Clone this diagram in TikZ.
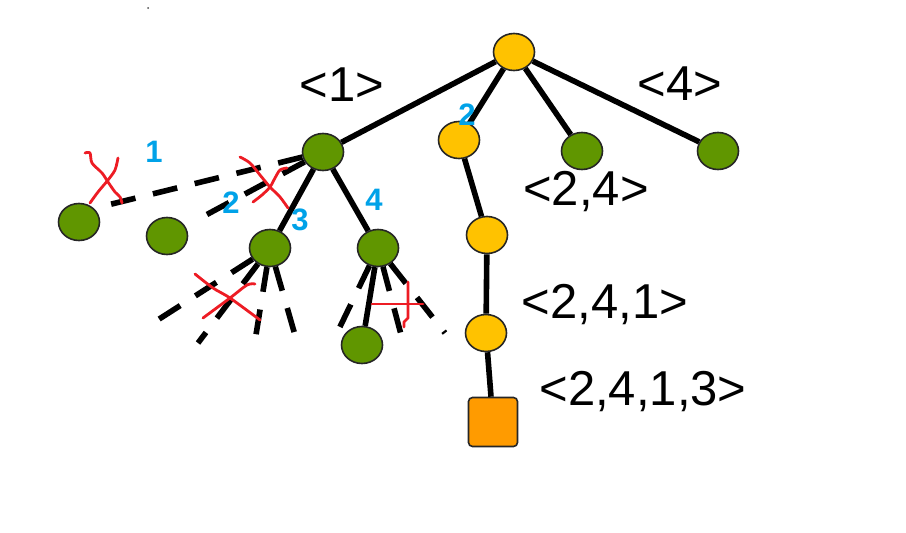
\documentclass[tikz,border=0pt]{standalone}
\usepackage{fontspec}
\setmainfont{Liberation Sans}
\usetikzlibrary{shapes.geometric}
\definecolor{leaf}{RGB}{96,150,0}
\definecolor{gold}{RGB}{255,194,0}
\definecolor{goalorange}{RGB}{255,155,0}
\definecolor{orderblue}{RGB}{0,162,232}
\definecolor{crossred}{RGB}{237,28,36}

\begin{document}
\begin{tikzpicture}[x=1pt,y=-1pt,
		leafnode/.style={ellipse,draw=black!85,line width=1.6pt,fill=leaf,minimum width=41pt,minimum height=37pt,inner sep=0pt},
		goldnode/.style={leafnode,fill=gold},
		goalnode/.style={rectangle,rounded corners=4pt,draw=black!85,line width=1.6pt,fill=goalorange,minimum size=49pt,inner sep=0pt},
		branch/.style={line width=5.6pt},
		pruned/.style={line width=5.6pt,dash pattern=on 25pt off 18pt},
		cross/.style={draw=crossred,line width=2.8pt,line cap=round,line join=round},
		seq/.style={anchor=base,inner sep=0pt,font=\fontsize{49}{49}\selectfont},
		order/.style={anchor=base,inner sep=0pt,text=orderblue,font=\bfseries\fontsize{31}{31}\selectfont}]
	\useasboundingbox (0,0) rectangle (906,533);
	\fill[black!70] (148,8) circle (1pt);
	% search tree
	\node[goldnode] (root) at (514,52) {};
	\node[leafnode] (g1) at (323,152) {};
	\node[goldnode] (y2) at (459,140) {};
	\node[leafnode] (g3) at (582,151) {};
	\node[leafnode] (g4) at (718,151) {};
	\node[leafnode] (gA) at (79,222) {};
	\node[leafnode] (gB) at (167,236) {};
	\node[leafnode] (g13) at (270,248) {};
	\node[leafnode] (g14) at (378,248) {};
	\node[leafnode] (gC) at (362,345) {};
	\node[goldnode] (y24) at (487,235) {};
	\node[goldnode] (y241) at (486,333) {};
	\node[goalnode] (goal) at (493,422) {};
	% ends of pruned branches
	\coordinate (c1) at (153,323);
	\coordinate (c2) at (198,343);
	\coordinate (c3) at (255,341);
	\coordinate (c4) at (297,342);
	\coordinate (d1) at (337,333);
	\coordinate (d2) at (403,342);
	\coordinate (d3) at (445,333);

	\foreach \a/\b in {root/g1, root/y2, root/g3, root/g4, g1/g13, g1/g14, gC/g14, y2/y24, y24/y241, y241/goal}
		\draw[branch] (\a) -- (\b);
	\draw[pruned] (g1) -- (gA.north east);
	\draw[pruned,shorten >=12pt] (g1) -- (gB);
	\foreach \c in {c1,c2,c3,c4}
		\draw[pruned] (g13) -- (\c);
	\foreach \c in {d1,d2,d3}
		\draw[pruned] (g14) -- (\c);

	% sequences
	\node[seq] (s1) at (342,101) {<1>};
	\node[seq] (s4) at (680,100) {<4>};
	\node[seq] (s24) at (586,205) {<2,4>};
	\node[seq] (s241) at (605,318) {<2,4,1>};
	\node[seq] (s2413) at (643,405) {<2,4,1,3>};

	% visiting order
	\node[order] (o1) at (154,162) {1};
	\node[order] (o2) at (231,213) {2};
	\node[order] (o3) at (300,230) {3};
	\node[order] (o4) at (374,210) {4};
	\node[order] (o5) at (467,125) {2};

	% crossed out
	\draw[cross] plot[smooth] coordinates {(85,153) (90,153) (92,163) (102,173) (108,182) (115,192) (120,197) (122,203)};
	\draw[cross] plot[smooth] coordinates {(118,158) (115,170) (108,180) (98,192) (90,203)};
	\draw[cross] plot[smooth] coordinates {(240,157) (250,163) (260,175) (270,187) (280,197) (288,208)};
	\draw[cross] plot[smooth] coordinates {(287,168) (280,170) (275,178) (270,187) (262,195) (253,202)};
	\draw[cross] plot[smooth] coordinates {(195,274) (213,288) (230,298) (260,320)};
	\draw[cross] plot[smooth] coordinates {(255,284) (247,285) (230,298) (203,318)};
	\draw[cross] (372,304) -- (423,304);
	\draw[cross] (408,282) -- (408,318) -- (404,322) -- (404,327);
\end{tikzpicture}
\end{document}
